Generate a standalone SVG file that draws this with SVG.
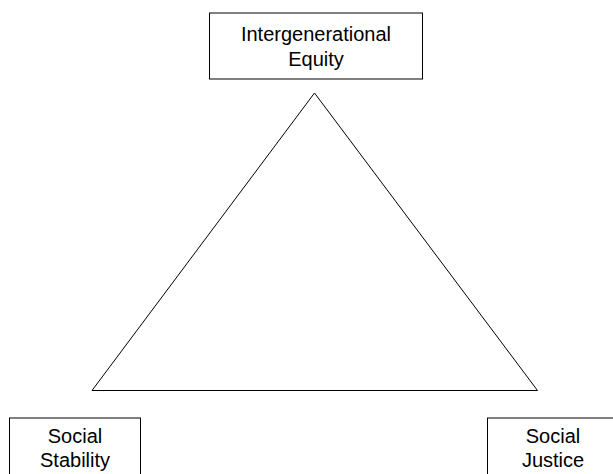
<svg xmlns="http://www.w3.org/2000/svg" width="613" height="474" viewBox="0 0 613 474">
<style>
.box{fill:#fff;stroke:#000;stroke-width:1}
.lbl{font-family:"Liberation Sans",Arial,sans-serif;font-size:20px;fill:#000;text-anchor:middle}
.edge{fill:none;stroke:#000;stroke-width:1}
</style>
<rect width="613" height="474" fill="#fff"/>
<g id="connectors">
<polygon class="edge" points="314.5,93 92,390.5 537.5,390.5"/>
</g>
<g id="intergenerational-equity">
<rect class="box" x="209.5" y="13" width="213" height="66"/>
<text class="lbl" x="316" y="41">Intergenerational</text>
<text class="lbl" x="316" y="65.5">Equity</text>
</g>
<g id="social-stability">
<rect class="box" x="9.5" y="418" width="131" height="70"/>
<text class="lbl" x="75" y="442.5">Social</text>
<text class="lbl" x="75" y="467">Stability</text>
</g>
<g id="social-justice">
<rect class="box" x="487.5" y="418" width="131" height="70"/>
<text class="lbl" x="553" y="442.5">Social</text>
<text class="lbl" x="553" y="467">Justice</text>
</g>
</svg>
